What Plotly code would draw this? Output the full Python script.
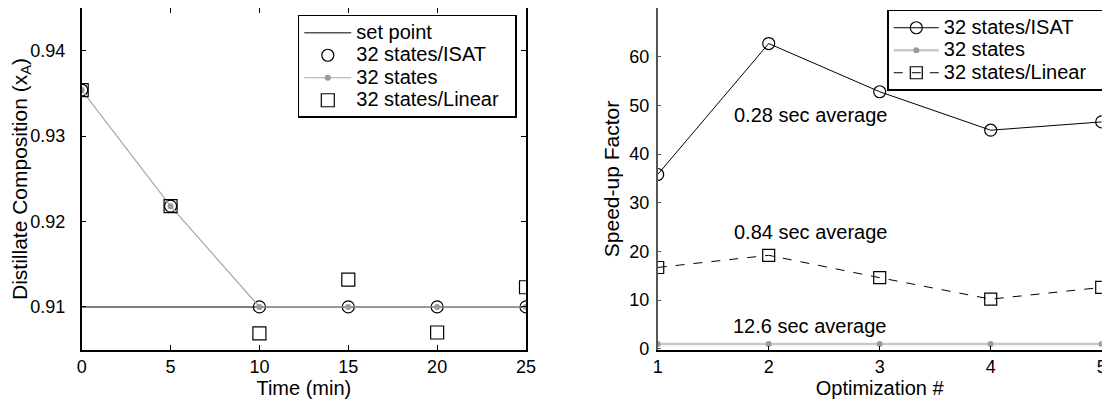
import plotly.graph_objects as go

# ---- data ----
time_min = [0, 5, 10, 15, 20, 25]
setpoint_t = [0, 25]
setpoint_v = [0.91, 0.91]
isat_comp = [0.9354, 0.9218, 0.9100, 0.9100, 0.9100, 0.9100]
full_comp = [0.9354, 0.9218, 0.9100, 0.9100, 0.9100, 0.9100]
linear_comp = [0.9354, 0.9218, 0.9069, 0.9132, 0.9070, 0.9123]

opt_num = [1, 2, 3, 4, 5]
isat_speed = [35.8, 62.7, 52.8, 44.9, 46.6]
full_speed = [1, 1, 1, 1, 1]
linear_speed = [16.7, 19.2, 14.6, 10.2, 12.6]

avg_labels = ["0.28 sec average", "0.84 sec average", "12.6 sec average"]
avg_x = [2.38, 2.38, 2.37]
avg_y = [48.1, 24.0, 4.6]

FONT = "Liberation Sans, Arial, sans-serif"
TICK_FS = 18
BIG_FS = 20
LEG_FS = 20
YT_FS = 21


def lg(name):
    return '<span style="font-size:%spx">%s&nbsp;&nbsp;</span>' % (LEG_FS, name)


fig = go.Figure()

# ---- left panel ----
fig.add_trace(go.Scatter(x=setpoint_t, y=setpoint_v, mode="lines", name=lg("set point"),
                         line=dict(color="#555555", width=1.5),
                         xaxis="x", yaxis="y", legend="legend"))
fig.add_trace(go.Scatter(x=time_min, y=isat_comp, mode="markers", name=lg("32 states/ISAT"),
                         marker=dict(symbol="circle-open", size=12, color="black",
                                     line=dict(width=1.2)),
                         xaxis="x", yaxis="y", legend="legend"))
fig.add_trace(go.Scatter(x=time_min, y=full_comp, mode="lines+markers", name=lg("32 states"),
                         line=dict(color="#a8a8a8", width=1.2),
                         marker=dict(symbol="circle", size=6, color="#9a9a9a"),
                         xaxis="x", yaxis="y", legend="legend"))
fig.add_trace(go.Scatter(x=time_min, y=linear_comp, mode="markers", name=lg("32 states/Linear"),
                         marker=dict(symbol="square-open", size=13, color="black",
                                     line=dict(width=1.2)),
                         xaxis="x", yaxis="y", legend="legend"))

# ---- right panel ----
fig.add_trace(go.Scatter(x=opt_num, y=isat_speed, mode="lines+markers", name=lg("32 states/ISAT"),
                         line=dict(color="black", width=1),
                         marker=dict(symbol="circle-open", size=12, color="black",
                                     line=dict(width=1.2)),
                         xaxis="x2", yaxis="y2", legend="legend2"))
fig.add_trace(go.Scatter(x=opt_num, y=full_speed, mode="lines+markers", name=lg("32 states"),
                         line=dict(color="#c8c8c8", width=2.5),
                         marker=dict(symbol="circle", size=6, color="#9a9a9a"),
                         xaxis="x2", yaxis="y2", legend="legend2"))
fig.add_trace(go.Scatter(x=opt_num, y=linear_speed, mode="lines+markers", name=lg("32 states/Linear"),
                         line=dict(color="black", width=1, dash="dash"),
                         marker=dict(symbol="square-open", size=12, color="black",
                                     line=dict(width=1.2)),
                         xaxis="x2", yaxis="y2", legend="legend2"))

for txt, ax, ay in zip(avg_labels, avg_x, avg_y):
    fig.add_annotation(x=ax, y=ay, xref="x2", yref="y2", text=txt, showarrow=False,
                       font=dict(family=FONT, size=BIG_FS, color="black"))

# page body adds an 8px offset; lay out in a frame shifted by 8px
OFF = 8
W, H = 1110 - OFF, 406 - OFF
PLOT_BOTTOM = 350.5 - OFF


def px(v):
    return (v - OFF) / W


def py(v):
    return (PLOT_BOTTOM - (v - OFF)) / PLOT_BOTTOM


fig.update_layout(
    width=W, height=H,
    margin=dict(l=0, r=0, t=0, b=H - PLOT_BOTTOM, autoexpand=False),
    paper_bgcolor="white", plot_bgcolor="white",
    font=dict(family=FONT, size=TICK_FS, color="black"),
    xaxis=dict(domain=[px(81.7), px(526)], range=[0, 25], tickvals=[0, 5, 10, 15, 20, 25],
               showline=True, linecolor="black", linewidth=1.5, mirror="ticks",
               ticks="inside", ticklen=5, tickcolor="black", showgrid=False, zeroline=False,
               title=dict(text="Time (min)", standoff=1, font=dict(size=BIG_FS)),
               automargin=False),
    yaxis=dict(domain=[0, 1], range=[0.90495, 0.94501], tickvals=[0.91, 0.92, 0.93, 0.94],
               ticktext=["0.91", "0.92", "0.93", "0.94"],
               showline=True, linecolor="black", linewidth=1.5, mirror="ticks",
               ticks="inside", ticklen=5, tickcolor="black", showgrid=False, zeroline=False,
               ticklabelstandoff=11,
               title=dict(text="Distillate Composition (x<sub>A</sub>)", standoff=6,
                          font=dict(size=YT_FS)),
               automargin=False),
    xaxis2=dict(domain=[px(657.7), px(1101.7)], range=[1, 5], tickvals=[1, 2, 3, 4, 5],
                anchor="y2", showline=True, linecolor="black", linewidth=1.5,
                ticks="inside", ticklen=4, tickcolor="black", showgrid=False, zeroline=False,
                title=dict(text="Optimization #", standoff=1, font=dict(size=BIG_FS)),
                automargin=False),
    yaxis2=dict(domain=[0, 1], range=[-0.25, 70], tickvals=[0, 10, 20, 30, 40, 50, 60, 70],
                anchor="x2", showline=True, linecolor="#555555", linewidth=1.5,
                ticks="inside", ticklen=4, tickcolor="#555555", showgrid=False, zeroline=False,
                ticklabelstandoff=3,
                title=dict(text="Speed-up Factor", standoff=4, font=dict(size=YT_FS)),
                automargin=False),
    legend=dict(x=px(297.8), y=py(15), xanchor="left", yanchor="top",
                bordercolor="black", borderwidth=1.5, bgcolor="white",
                font=dict(family=FONT, size=15), tracegroupgap=0, itemwidth=47),
    legend2=dict(x=px(887.3), y=py(10), xanchor="left", yanchor="top",
                 bordercolor="black", borderwidth=1.5, bgcolor="white",
                 font=dict(family=FONT, size=15), tracegroupgap=0, itemwidth=45),
)

fig.write_html("out.html")
